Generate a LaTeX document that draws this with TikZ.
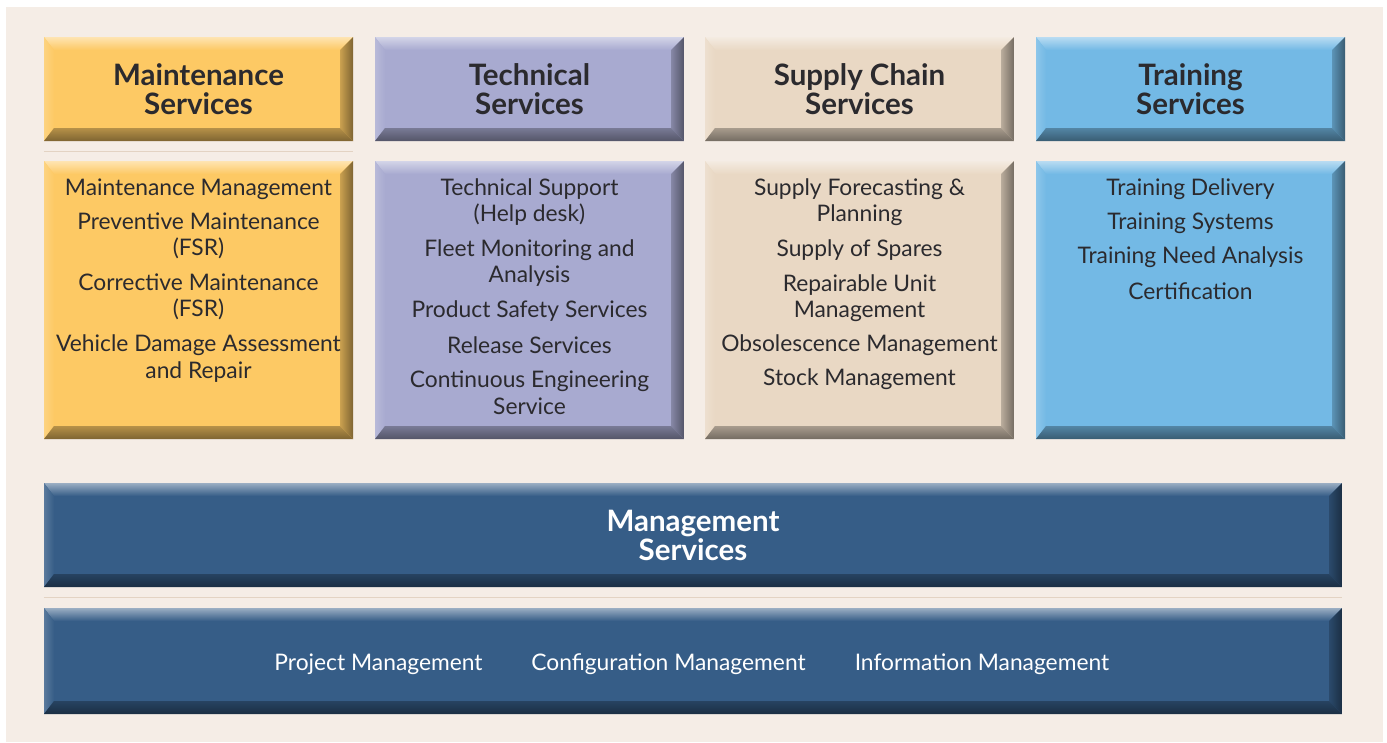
\documentclass[tikz,border=0pt]{standalone}
\usepackage{fontspec}
\setmainfont{Lato}
\usetikzlibrary{calc}

\definecolor{bgbeige}{HTML}{F5EDE6}
\definecolor{mtyellow}{HTML}{FDC964}
\definecolor{tclavender}{HTML}{A8AAD0}
\definecolor{sctan}{HTML}{E9D8C4}
\definecolor{trblue}{HTML}{73B9E5}
\definecolor{mgnavy}{HTML}{365D87}
\definecolor{sepline}{HTML}{E3D3C3}
\definecolor{txtdark}{HTML}{2B2A2E}

\tikzset{
  bevelbox/.style={rectangle,inner sep=0pt,fill=#1,
    path picture={
      \path (path picture bounding box.north west) coordinate (nw)
            (path picture bounding box.north east) coordinate (ne)
            (path picture bounding box.south west) coordinate (sw)
            (path picture bounding box.south east) coordinate (se);
      \shade[top color=#1!50!white,bottom color=#1]
        (nw) -- (ne) -- ($(ne)+(-13,13)$) -- ($(nw)+(10,13)$) -- cycle;
      \shade[left color=#1!82!white,right color=#1]
        (nw) -- ($(nw)+(10,13)$) -- ($(sw)+(10,-13)$) -- (sw) -- cycle;
      \shade[left color=#1!80!black,right color=#1!50!black]
        (ne) -- (se) -- ($(se)+(-13,-13)$) -- ($(ne)+(-13,13)$) -- cycle;
      \shade[top color=#1!72!black,bottom color=#1!50!black]
        (sw) -- (se) -- ($(se)+(-13,-13)$) -- ($(sw)+(10,-13)$) -- cycle;
    }},
}

\begin{document}
\begin{tikzpicture}[x=1pt,y=-1pt]

  \tikzstyle{headbox}=[minimum width=309pt,minimum height=104pt,align=center,
    font=\bfseries\fontsize{29.5}{29}\selectfont,text=txtdark]
  \tikzstyle{bodybox}=[minimum width=309pt,minimum height=278pt]
  \tikzstyle{wide}=[minimum width=1298pt,align=center]
  \tikzstyle{item}=[align=center,inner sep=0pt,font=\fontsize{22.8}{26.5}\selectfont,text=txtdark]
  \tikzstyle{sep}=[draw=sepline,line width=1.5pt]

  % background
  \fill[white] (0,0) rectangle (1387,742);
  \fill[bgbeige] (6,7) rectangle (1383,742);

  % headers
  \node[bevelbox=mtyellow,headbox]   (mhead) at (198.5,89) {Maintenance\\Services};
  \node[bevelbox=tclavender,headbox] (thead) at (529.5,89) {Technical\\Services};
  \node[bevelbox=sctan,headbox]      (shead) at (859.5,89) {Supply Chain\\Services};
  \node[bevelbox=trblue,headbox]     (rhead) at (1190.5,89) {Training\\Services};

  % bodies
  \node[bevelbox=mtyellow,bodybox]   (mbody) at (198.5,300) {};
  \node[bevelbox=tclavender,bodybox] (tbody) at (529.5,300) {};
  \node[bevelbox=sctan,bodybox]      (sbody) at (859.5,300) {};
  \node[bevelbox=trblue,bodybox]     (rbody) at (1190.5,300) {};

  \draw[sep] (mhead.south west) ++(0,10.5) coordinate (mseps) -- (mseps -| mhead.south east);

  % maintenance items
  \node[item] (mm1) at (198.5,189)   {Maintenance Management};
  \node[item] (mm2) at (198.5,236)   {Preventive Maintenance\\(FSR)};
  \node[item] (mm3) at (198.5,297)   {Corrective Maintenance\\(FSR)};
  \node[item] (mm4) at (198.5,358.5) {Vehicle Damage Assessment\\and Repair};

  % technical items
  \node[item] (ts1) at (529.5,202)   {Technical Support\\(Help desk)};
  \node[item] (ts2) at (529.5,263)   {Fleet Monitoring and\\Analysis};
  \node[item] (ts3) at (529.5,311)   {Product Safety Services};
  \node[item] (ts4) at (529.5,345)   {Release Services};
  \node[item] (ts5) at (529.5,392.5) {Continuous Engineering\\Service};

  % supply chain items
  \node[item] (sc1) at (859.5,202) {Supply Forecasting \&\\Planning};
  \node[item] (sc2) at (859.5,250) {Supply of Spares};
  \node[item] (sc3) at (859.5,298) {Repairable Unit\\Management};
  \node[item] (sc4) at (859.5,345) {Obsolescence Management};
  \node[item] (sc5) at (859.5,379) {Stock Management};

  % training items
  \node[item] (tr1) at (1190.5,189) {Training Delivery};
  \node[item] (tr2) at (1190.5,223) {Training Systems};
  \node[item] (tr3) at (1190.5,257) {Training Need Analysis};
  \node[item] (tr4) at (1190.5,291) {Certification};

  % management
  \node[bevelbox=mgnavy,wide,minimum height=104pt,font=\bfseries\fontsize{29.5}{29}\selectfont,
    text=white,text depth=0pt] (ghead) at (693,535) {Management\\Services};
  \draw[sep] (ghead.south west) ++(0,10.5) coordinate (gseps) -- (gseps -| ghead.south east);
  \node[bevelbox=mgnavy,wide,minimum height=106pt] (gbody) at (693,661) {};

  \node[item,text=white] (gm1) at (378.5,664) {Project Management};
  \node[item,text=white] (gm2) at (668.5,664) {Configuration Management};
  \node[item,text=white] (gm3) at (982,664)   {Information Management};

\end{tikzpicture}
\end{document}
